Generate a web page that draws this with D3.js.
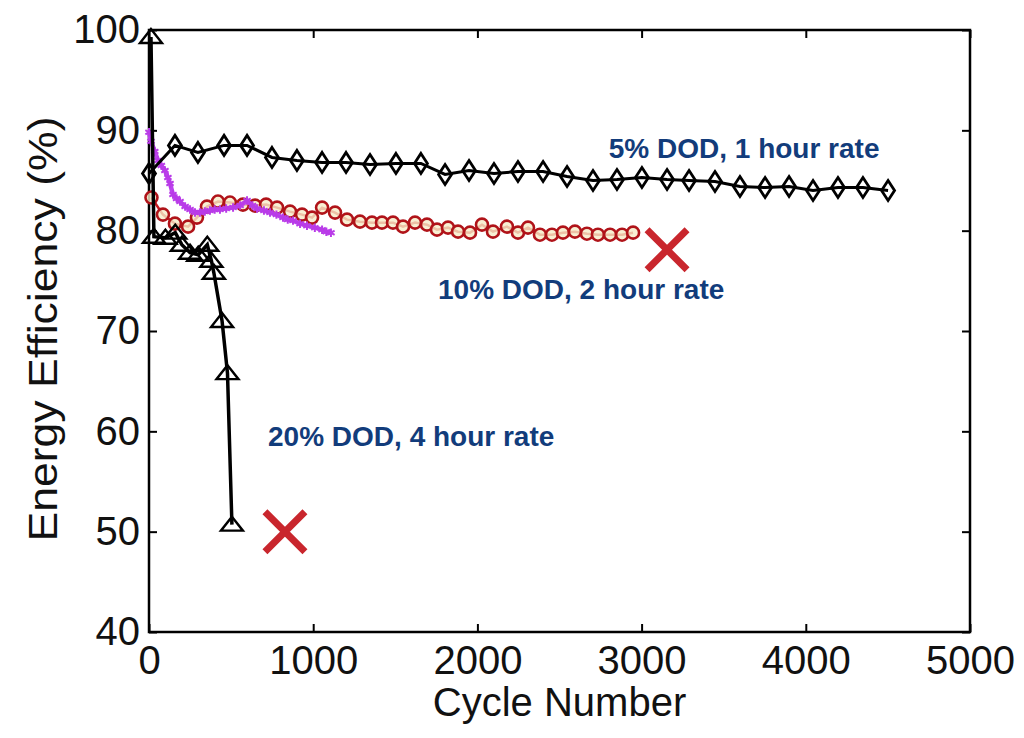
<!DOCTYPE html>
<html>
<head>
<meta charset="utf-8">
<script src="https://cdn.jsdelivr.net/npm/d3@7/dist/d3.min.js"></script>
<style>
  html, body { margin: 0; padding: 0; background: #fff; }
  svg { display: block; }
</style>
</head>
<body>
<svg id="chart" width="1024" height="738"></svg>
<script>
// ---- data ----
const xTicks = [0, 1000, 2000, 3000, 4000, 5000];
const yTicks = [40, 50, 60, 70, 80, 90, 100];
const xLabel = "Cycle Number";
const yLabel = "Energy Efficiency (%)";

// 5% DOD, 1 hour rate (diamonds)
const dod5 = [
  [0, 85.7], [158, 88.5], [298, 87.8], [457, 88.5], [597, 88.5], [749, 87.3],
  [901, 87.0], [1054, 86.8], [1200, 86.8], [1346, 86.6], [1504, 86.7], [1656, 86.7],
  [1803, 85.6], [1949, 86.0], [2101, 85.7], [2247, 85.9], [2400, 85.9], [2546, 85.4],
  [2704, 85.0], [2850, 85.1], [3002, 85.3], [3155, 85.1], [3289, 85.0], [3447, 84.9],
  [3599, 84.4], [3752, 84.3], [3898, 84.4], [4044, 84.0], [4196, 84.3], [4348, 84.3],
  [4501, 84.0]
];

// 10% DOD, 2 hour rate (red circles)
const dod10 = [
  [15, 83.3], [85, 81.6], [158, 80.7], [238, 80.4], [292, 81.3], [353, 82.4],
  [420, 82.9], [493, 82.8], [572, 82.6], [646, 82.5], [713, 82.6], [780, 82.3],
  [859, 81.9], [932, 81.6], [993, 81.3], [1054, 82.3], [1133, 81.8], [1206, 81.1],
  [1285, 80.9], [1358, 80.8], [1419, 80.8], [1486, 80.8], [1547, 80.4], [1620, 80.8],
  [1693, 80.6], [1754, 80.1], [1821, 80.3], [1882, 79.9], [1955, 79.8], [2028, 80.6],
  [2095, 79.9], [2180, 80.4], [2247, 79.8], [2308, 80.3], [2381, 79.6], [2454, 79.6],
  [2521, 79.8], [2594, 79.9], [2667, 79.7], [2734, 79.6], [2808, 79.6], [2881, 79.6],
  [2948, 79.8]
];

// purple series
const purple = [
  [0, 89.8], [12, 88.9], [35, 87.9], [55, 87.0], [75, 86.5], [97, 86.0], [115, 85.3],
  [128, 84.7], [146, 83.6], [168, 83.2], [189, 82.9], [220, 82.4], [250, 82.1],
  [280, 81.8], [310, 81.8], [340, 81.9], [371, 82.0], [400, 82.1], [432, 82.1],
  [470, 82.2], [512, 82.3], [555, 82.5], [597, 83.0], [630, 82.5], [658, 82.2],
  [700, 82.0], [737, 81.8], [776, 81.6], [816, 81.3], [845, 81.1], [877, 81.0],
  [920, 80.7], [962, 80.5], [1010, 80.3], [1054, 80.1], [1080, 79.9], [1108, 79.8]
];

// 20% DOD, 4 hour rate (triangles)
const dod20 = [
  [12, 99.3], [30, 79.4], [100, 79.3], [160, 79.8], [200, 78.6], [250, 77.8],
  [300, 77.6], [355, 78.6], [380, 77.0], [395, 75.8], [445, 71.0], [478, 65.8],
  [505, 50.7]
];

// failure markers
const failures = [[3155, 78.1], [828, 50.0]];

// annotations
const notes = [
  { text: "5% DOD, 1 hour rate", x: 2800, y: 87.2 },
  { text: "10% DOD, 2 hour rate", x: 1760, y: 73.2 },
  { text: "20% DOD, 4 hour rate", x: 725, y: 58.5 }
];

// ---- chart ----
const svg = d3.select("#chart");
const mLeft = 149, mRight = 970, mTop = 30, mBottom = 632;
const x = d3.scaleLinear().domain([0, 5000]).range([mLeft, mRight]);
const y = d3.scaleLinear().domain([40, 100]).range([mBottom, mTop]);
const font = "'Liberation Sans', Arial, Helvetica, sans-serif";

// axes with inward ticks
const tickLen = 8;
const gB = svg.append("g").attr("transform", `translate(0,${mBottom})`)
  .call(d3.axisBottom(x).tickValues(xTicks).tickFormat(d3.format("d"))
        .tickSizeInner(-tickLen).tickSizeOuter(0).tickPadding(14));
const gT = svg.append("g").attr("transform", `translate(0,${mTop})`)
  .call(d3.axisTop(x).tickValues(xTicks).tickFormat("")
        .tickSizeInner(-tickLen).tickSizeOuter(0));
const gL = svg.append("g").attr("transform", `translate(${mLeft},0)`)
  .call(d3.axisLeft(y).tickValues(yTicks).tickFormat(d3.format("d"))
        .tickSizeInner(-tickLen).tickSizeOuter(0).tickPadding(9));
const gR = svg.append("g").attr("transform", `translate(${mRight},0)`)
  .call(d3.axisRight(y).tickValues(yTicks).tickFormat("")
        .tickSizeInner(-tickLen).tickSizeOuter(0));
[gB, gT, gL, gR].forEach(g => {
  g.select(".domain").remove();
  g.selectAll(".tick line").attr("stroke", "#000").attr("stroke-width", 2);
  g.selectAll(".tick text").attr("font-family", font).attr("font-size", 40)
    .attr("fill", "#111");
});

// frame
svg.append("rect").attr("x", mLeft).attr("y", mTop)
  .attr("width", mRight - mLeft).attr("height", mBottom - mTop)
  .attr("fill", "none").attr("stroke", "#000").attr("stroke-width", 2.5);

// axis titles
svg.append("text").attr("x", (mLeft + mRight) / 2).attr("y", 716)
  .attr("text-anchor", "middle").attr("font-family", font).attr("font-size", 40)
  .attr("fill", "#111").text(xLabel);
svg.append("text").attr("transform", `translate(57,${(mTop + mBottom) / 2 - 2}) rotate(-90)`)
  .attr("text-anchor", "middle").attr("font-family", font).attr("font-size", 41)
  .attr("textLength", 425).attr("lengthAdjust", "spacingAndGlyphs")
  .attr("fill", "#111").text(yLabel);

const line = d3.line().x(d => x(d[0])).y(d => y(d[1]));

// red circles series
svg.append("path").datum(dod10).attr("d", line).attr("fill", "none")
  .attr("stroke", "#c8181e").attr("stroke-width", 2.5);
svg.append("g").selectAll("circle").data(dod10).join("circle")
  .attr("cx", d => x(d[0])).attr("cy", d => y(d[1])).attr("r", 6)
  .attr("fill", "#f6ecc8").attr("fill-opacity", 0.8)
  .attr("stroke", "#b01319").attr("stroke-width", 2.6);

// purple series
svg.append("path").datum(purple).attr("d", line).attr("fill", "none")
  .attr("stroke", "#bb44ee").attr("stroke-width", 4.5);
const star = d3.symbol().type(d3.symbolAsterisk).size(50);
svg.append("g").selectAll("path").data(purple).join("path")
  .attr("transform", d => `translate(${x(d[0])},${y(d[1])})`)
  .attr("d", star).attr("fill", "none").attr("stroke", "#b93be8").attr("stroke-width", 2);

// diamonds series
svg.append("path").datum(dod5).attr("d", line).attr("fill", "none")
  .attr("stroke", "#000").attr("stroke-width", 3);
svg.append("g").selectAll("path").data(dod5).join("path")
  .attr("transform", d => `translate(${x(d[0])},${y(d[1])})`)
  .attr("d", "M0,-10L6.5,0L0,10L-6.5,0Z")
  .attr("fill", "none").attr("stroke", "#000").attr("stroke-width", 2.8);

// triangles series
svg.append("path").datum(dod20).attr("d", line).attr("fill", "none")
  .attr("stroke", "#000").attr("stroke-width", 3.5);
svg.append("g").selectAll("path").data(dod20).join("path")
  .attr("transform", d => `translate(${x(d[0])},${y(d[1])})`)
  .attr("d", "M0,-8L11,6L-11,6Z")
  .attr("fill", "none").attr("stroke", "#000").attr("stroke-width", 2.4);

// failure X marks
const xs = 20;
const gx = svg.append("g").selectAll("g").data(failures).join("g")
  .attr("transform", d => `translate(${x(d[0])},${y(d[1])})`);
gx.append("path").attr("d", `M${-xs},${-xs}L${xs},${xs}M${-xs},${xs}L${xs},${-xs}`)
  .attr("stroke", "#c9262d").attr("stroke-width", 7).attr("fill", "none");

// annotations
svg.append("g").selectAll("text").data(notes).join("text")
  .attr("x", d => x(d.x)).attr("y", d => y(d.y))
  .attr("font-family", font).attr("font-weight", "bold").attr("font-size", 28)
  .attr("fill", "#123c7b").text(d => d.text);
</script>
</body>
</html>
